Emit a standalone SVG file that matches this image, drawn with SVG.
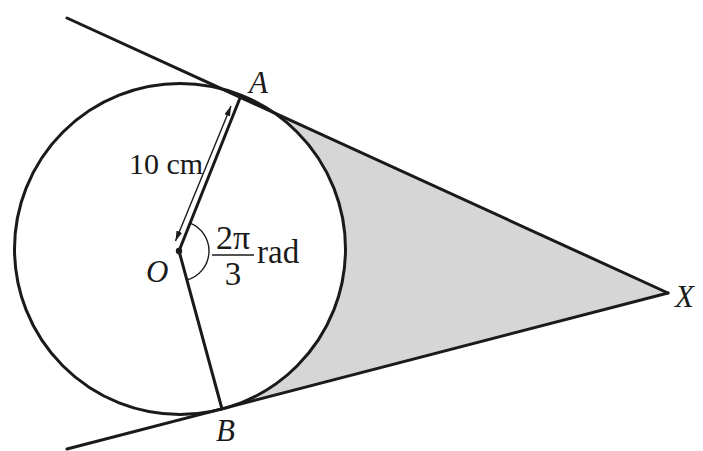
<svg xmlns="http://www.w3.org/2000/svg" width="703" height="451" viewBox="0 0 703 451">
<style>
.ln{stroke:#1a1a1a;stroke-width:3;fill:none;stroke-linecap:round}
.thin{stroke:#1a1a1a;stroke-width:1.4;fill:none}
.t{font-family:"Liberation Serif","Times New Roman",serif;fill:#1a1a1a}
.i{font-style:italic}
</style>
<defs>
<marker id="ah" viewBox="0 0 10 6" refX="10" refY="3" markerWidth="10" markerHeight="6" markerUnits="userSpaceOnUse" orient="auto-start-reverse">
<path d="M0,0 L10,3 L0,6 Z" fill="#1a1a1a"/>
</marker>
</defs>
<rect width="703" height="451" fill="#fff"/>
<g id="shade">
<path d="M241,95.5 L668,293 L222,409 A165.5,165.5 0 0 0 241,95.5 Z" fill="#d6d6d6"/>
</g>
<g id="circle">
<circle cx="180" cy="249" r="165.5" fill="#fff" stroke="#1a1a1a" stroke-width="3"/>
</g>
<g id="connectors">
<line class="ln" x1="67" y1="18" x2="668" y2="293"/>
<line class="ln" x1="67" y1="449" x2="668" y2="293"/>
<line class="ln" x1="179" y1="251" x2="241" y2="95.5"/>
<line class="ln" x1="179" y1="251" x2="222" y2="409"/>
<line class="thin" x1="175.5" y1="241" x2="231" y2="106" marker-start="url(#ah)" marker-end="url(#ah)"/>
<path class="thin" d="M190.1,223.2 A30,30 0 0 1 186.9,280"/>
</g>
<g id="O">
<circle cx="179" cy="251" r="3.2" fill="#1a1a1a"/>
<text class="t i" x="146" y="282" font-size="31">O</text>
</g>
<g id="A"><text class="t i" x="249" y="93" font-size="31">A</text></g>
<g id="B"><text class="t i" x="216" y="441" font-size="31">B</text></g>
<g id="X"><text class="t i" x="675" y="307" font-size="31">X</text></g>
<g id="len"><text class="t" x="129" y="174" font-size="30">10 cm</text></g>
<g id="angle">
<text class="t" x="233" y="249" font-size="34" text-anchor="middle">2π</text>
<line class="thin" x1="212" y1="255" x2="254" y2="255"/>
<text class="t" x="233" y="285" font-size="33" text-anchor="middle">3</text>
<text class="t" x="257" y="263" font-size="33">rad</text>
</g>
</svg>
